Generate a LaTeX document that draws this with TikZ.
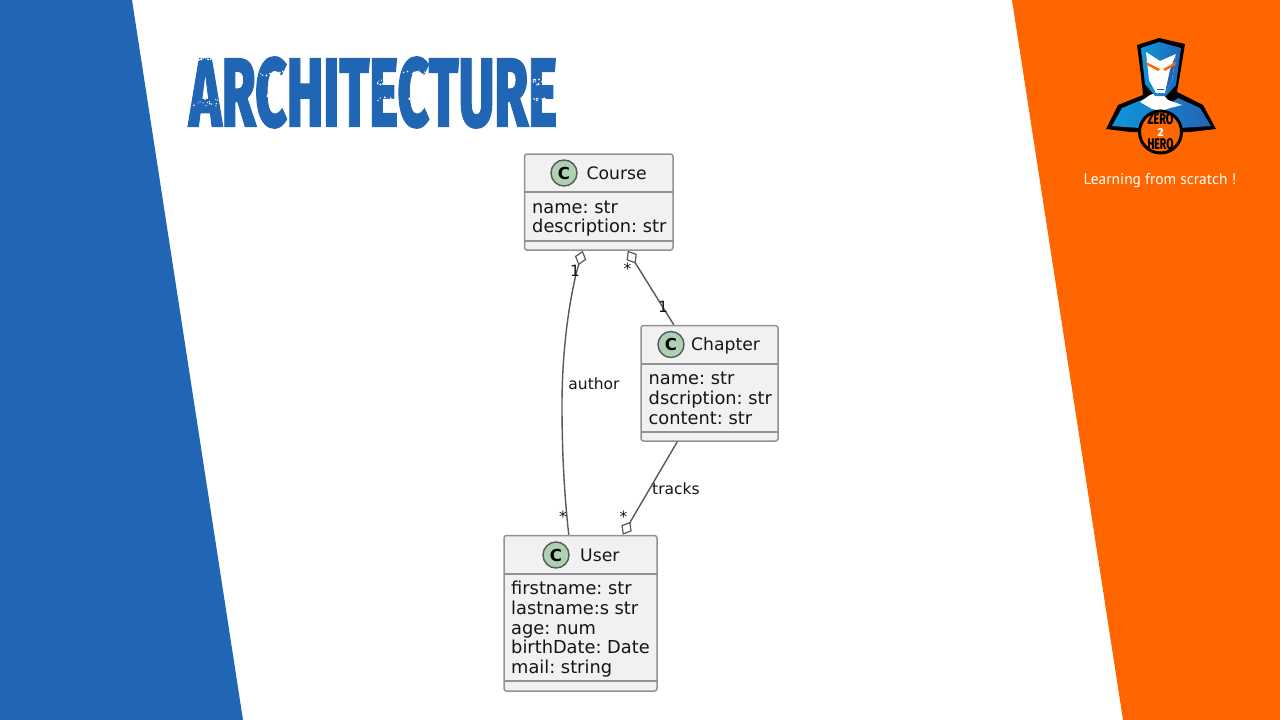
\documentclass[tikz,border=0pt]{standalone}
\usepackage{fontspec}
\setmainfont{DejaVu Sans}
\newfontfamily\titlefont{Fira Sans ExtraBold}
\newfontfamily\tagfont{PT Sans}
\usetikzlibrary{arrows.meta}
\definecolor{bluebg}{HTML}{2166B5}
\definecolor{orangebg}{HTML}{FF6600}
\definecolor{boxfill}{HTML}{F1F1F1}
\definecolor{boxline}{HTML}{929292}
\definecolor{edgeline}{HTML}{585858}
\definecolor{ink}{HTML}{151515}
\definecolor{spot}{HTML}{ADD1B2}
\definecolor{logoblue}{HTML}{0F96DC}
\tikzset{
  umlbox/.style={draw=boxline,fill=boxfill,line width=1.5pt,rounded corners=2.5pt,anchor=north west,inner sep=0pt},
  divider/.style={draw=boxline,line width=1.5pt},
  member/.style={anchor=base west,inner sep=0pt,text=ink,font=\fontsize{17.8}{18}\selectfont\frenchspacing},
  ctitle/.style={anchor=base west,inner sep=0pt,text=ink,font=\fontsize{17.2}{18}\selectfont},
  cspot/.style={circle,draw=edgeline,fill=spot,line width=1.4pt,minimum size=26pt,inner sep=0pt,text=black,font=\fontsize{16.5}{16.5}\selectfont\bfseries},
  edge/.style={draw=edgeline,line width=1.4pt},
  aggr/.style={{Diamond[open,fill=white,length=15pt,width=12pt,line width=1.2pt]}-},
  raggr/.style={-{Diamond[open,fill=white,length=15pt,width=12pt,line width=1.2pt]}},
  elabel/.style={inner sep=0pt,text=ink,font=\fontsize{15.5}{15.5}\selectfont},
}
\newcommand{\heavytext}[1]{\special{pdf:code 2 Tr 0.16 w}#1\special{pdf:code 0 Tr 0 w}}
\begin{document}
\begin{tikzpicture}[x=1pt,y=-1pt]
\useasboundingbox (0,0) rectangle (1280,720);
\fill[white] (0,0) rectangle (1280,720);
\fill[bluebg] (0,0) -- (132,0) -- (243,720) -- (0,720) -- cycle;
\fill[orangebg] (1012,0) -- (1280,0) -- (1280,720) -- (1123,720) -- cycle;
% title
\node[inner sep=0pt,text=bluebg] (title) at (373,92.5) {\resizebox{368pt}{69.5pt}{\titlefont\heavytext{ARCHITECTURE}}};
\pgfmathsetseed{7}
\foreach \xx/\yy/\ww/\hh in {205/102/15/4,273/75/13/4,277/95/11/2,387/82/10/3,387/99/10/2,416/75/13/4,418/97/11/2,540/82/7/3,540/99/7/2,206/59/9/1.5}{
  \foreach \k in {1,...,14}{
    \pgfmathsetmacro{\dx}{\ww*(rand)}
    \pgfmathsetmacro{\dy}{\hh*(rand)}
    \pgfmathsetmacro{\rr}{0.5+0.6*abs(rand)}
    \fill[white] (\xx+\dx,\yy+\dy) circle[radius=\rr];
  }
}
% logo
\begin{scope}[line join=miter]
\fill[black] (1137,45) -- (1159,38) -- (1185,44) -- (1180,75) -- (1177,92) -- (1203,105) -- (1216,129) -- (1190,132) -- (1130,132) -- (1106,129) -- (1118,105) -- (1143,95) -- (1141,76) -- cycle;
\shade[left color=logoblue,right color=bluebg] (1122,108) -- (1144,99) -- (1160,110) -- (1178,98) -- (1200,108) -- (1211,126) -- (1180,128) -- (1140,128) -- (1112,126) -- cycle;
\fill[white] (1140,102) -- (1150,95) -- (1160,91) -- (1168,100) -- (1182,105) -- (1170,108) -- (1162,111) -- (1152,109) -- cycle;
\shade[left color=logoblue,right color=bluebg] (1141,48) -- (1159,42) -- (1181,48) -- (1176,85) -- (1166,96) -- (1155,96) -- (1145,84) -- cycle;
\fill[white] (1146,52) -- (1160,61) -- (1176,54) -- (1172,80) -- (1165,93) -- (1156,93) -- (1149,80) -- cycle;
\fill[bluebg] (1176,54) -- (1172,80) -- (1165,93) -- (1170,70) -- cycle;
\fill[orangebg] (1146,62) -- (1160,69) -- (1158,71) -- (1147,65) -- cycle;
\fill[orangebg] (1176,62) -- (1163,69) -- (1165,71) -- (1175,65) -- cycle;
\fill[bluebg] (1157,88.5) rectangle (1164,89.7);
\node[circle,draw=black,fill=orangebg,line width=3pt,minimum size=42pt,inner sep=0pt] (badge) at (1160.5,132) {};
\node[inner sep=0pt,text=black] (zero) at (1160.5,119.5) {\resizebox{26pt}{11pt}{\titlefont ZERO}};
\node[inner sep=0pt,text=black] (hero) at (1160.5,144.5) {\resizebox{26pt}{11pt}{\titlefont HERO}};
\node[inner sep=0pt,text=white] (two) at (1160.5,132) {\resizebox{6pt}{8pt}{\titlefont 2}};
\end{scope}
\node[inner sep=0pt,text=white,font=\tagfont\fontsize{15.5}{15.5}\selectfont] (tag) at (1160,181) {Learning from scratch !};
% boxes
\node[umlbox,minimum width=148.5pt,minimum height=96pt] (course) at (523.75,153.25) {};
\node[umlbox,minimum width=137pt,minimum height=115.5pt] (chapter) at (640.25,324.75) {};
\node[umlbox,minimum width=153pt,minimum height=155.5pt] (user) at (503.25,534.75) {};
\draw[divider] ([yshift=-38.75pt,xshift=.75pt]course.north west) -- ([yshift=-38.75pt,xshift=-.75pt]course.north east);
\draw[divider] ([yshift=9.75pt,xshift=.75pt]course.south west) -- ([yshift=9.75pt,xshift=-.75pt]course.south east);
\draw[divider] ([yshift=-39.25pt,xshift=.75pt]chapter.north west) -- ([yshift=-39.25pt,xshift=-.75pt]chapter.north east);
\draw[divider] ([yshift=9.75pt,xshift=.75pt]chapter.south west) -- ([yshift=9.75pt,xshift=-.75pt]chapter.south east);
\draw[divider] ([yshift=-39.25pt,xshift=.75pt]user.north west) -- ([yshift=-39.25pt,xshift=-.75pt]user.north east);
\draw[divider] ([yshift=10.75pt,xshift=.75pt]user.south west) -- ([yshift=10.75pt,xshift=-.75pt]user.south east);
% headers
\node[cspot] (cc) at (564,173) {C};
\node[ctitle] (ct) at (586.5,179) {Course};
\node[cspot] (hc) at (671,344.5) {C};
\node[ctitle] (ht) at (691,350.5) {Chapter};
\node[cspot] (uc) at (556,555) {C};
\node[ctitle] (ut) at (580,561) {User};
% members
\node[member] (m1) at (532,213) {name: str};
\node[member] (m2) at (532,232) {description: str};
\node[member] (m3) at (648.5,384) {name: str};
\node[member] (m4) at (648.5,404) {dscription: str};
\node[member] (m5) at (648.5,424) {content: str};
\node[member] (m6) at (511,594) {firstname: str};
\node[member] (m7) at (511,614) {lastname:s str};
\node[member] (m8) at (511,634) {age: num};
\node[member] (m9) at (511,653) {birthDate: Date};
\node[member] (m10) at (511,673) {mail: string};
% connectors
\draw[edge,aggr] ([xshift=59pt]course.south west) .. controls (572,287) and (562,340) .. (562,405) .. controls (562,460) and (565,500) .. ([xshift=65.5pt]user.north west);
\draw[edge,aggr] ([xshift=104pt]course.south west) -- ([xshift=33.5pt]chapter.north west);
\draw[edge,raggr] ([xshift=37pt]chapter.south west) -- ([xshift=119.5pt]user.north west);
% labels
\node[elabel] (l1) at (575,271) {1};
\node[elabel] (l2) at (627.5,269) {*};
\node[elabel] (l3) at (663,306.5) {1};
\node[elabel] (l4) at (594,384) {author};
\node[elabel] (l5) at (563,517) {*};
\node[elabel] (l6) at (676,488.5) {tracks};
\node[elabel] (l7) at (623.5,517) {*};
\end{tikzpicture}
\end{document}
